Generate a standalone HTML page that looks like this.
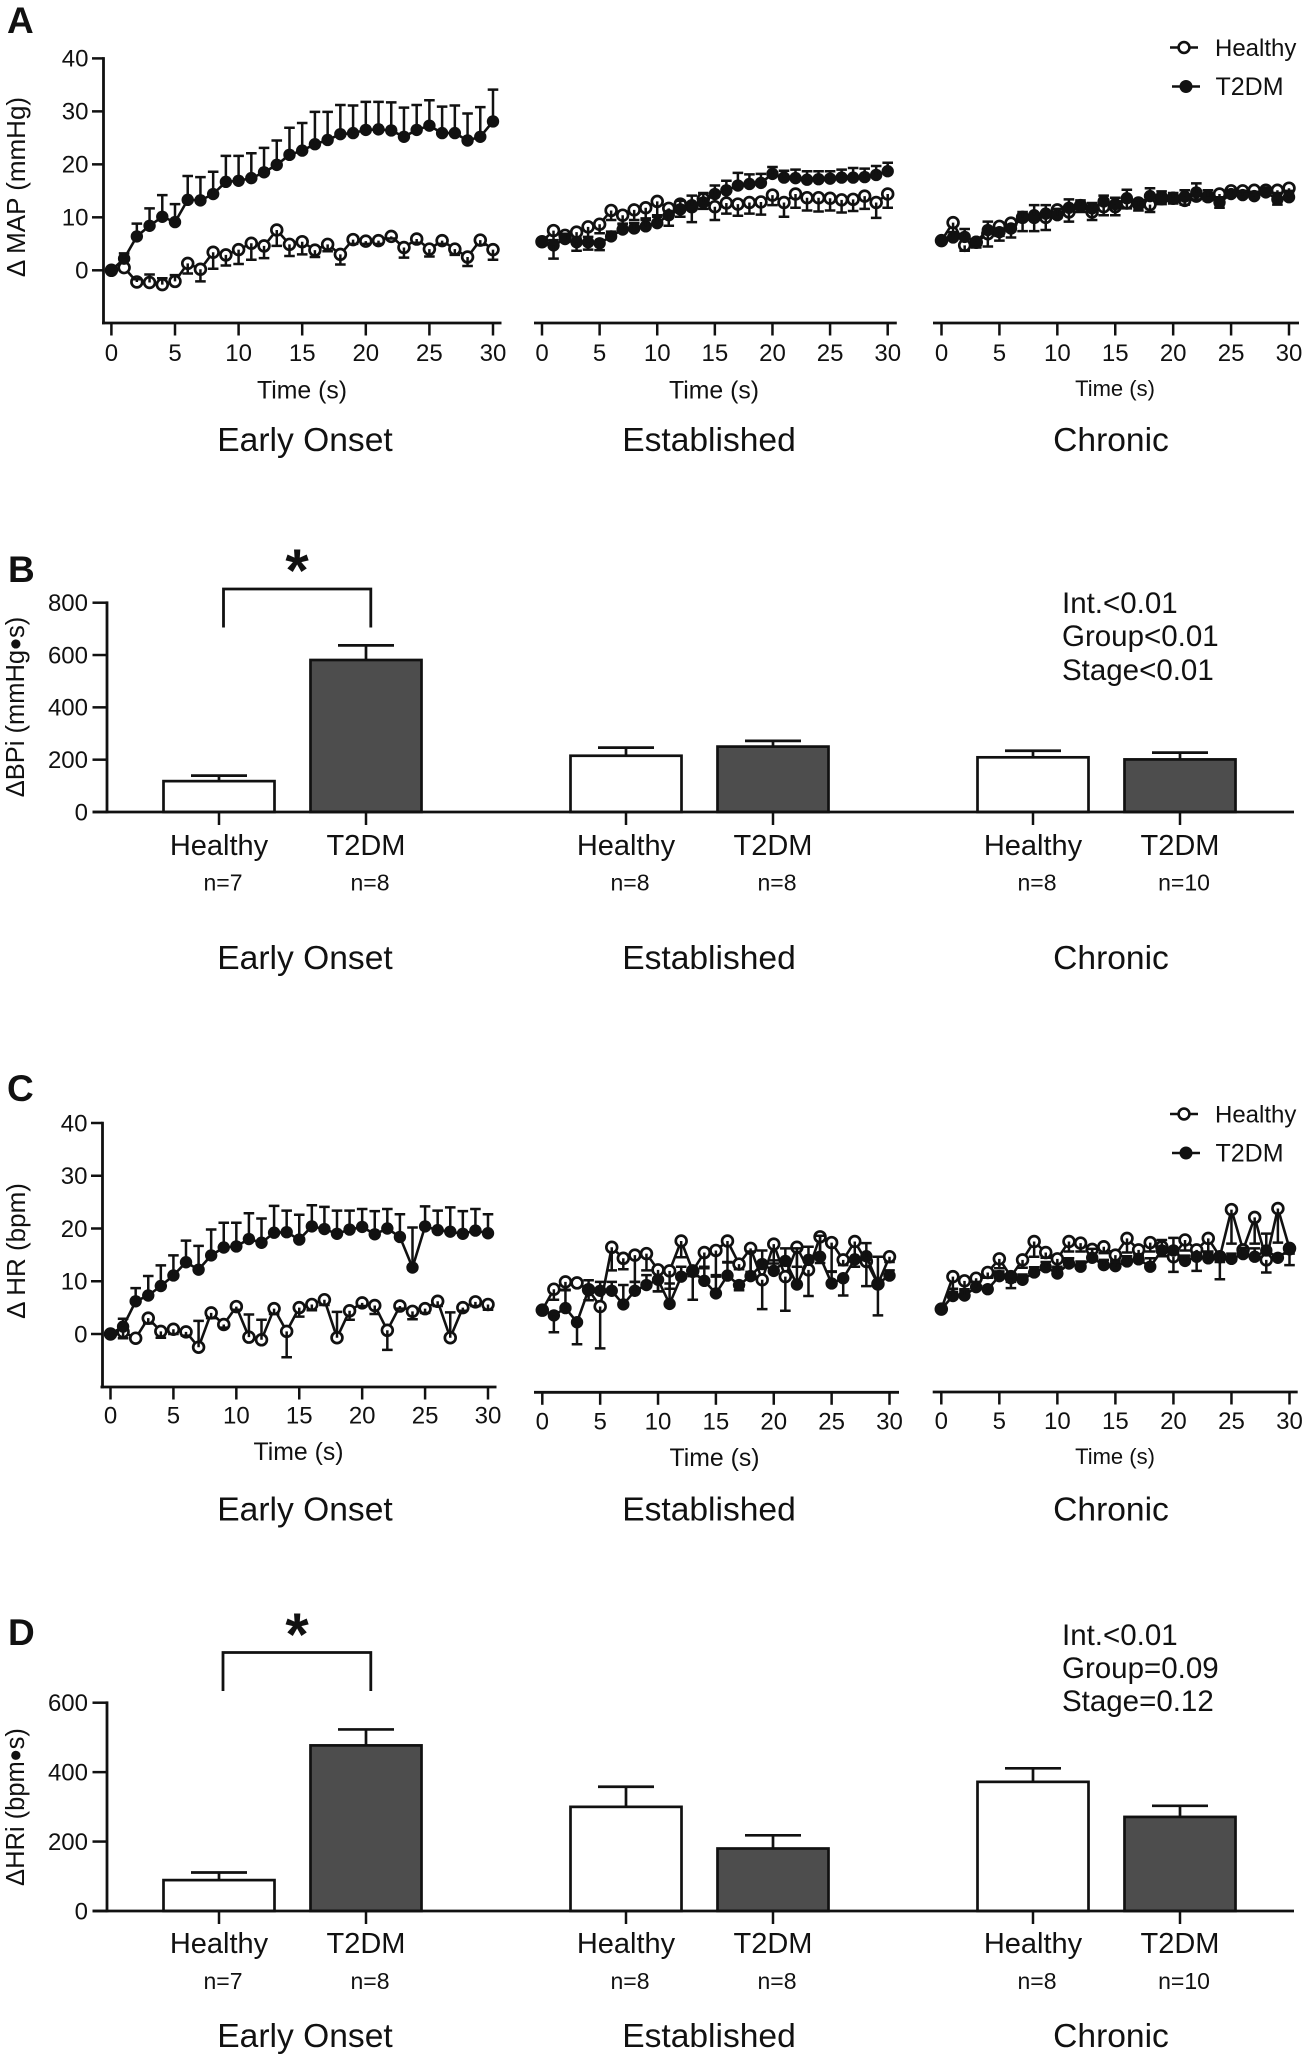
<!DOCTYPE html>
<html lang="en">
<head>
<meta charset="utf-8">
<title>Hemodynamic responses by diabetes stage</title>
<style>
html,body{margin:0;padding:0;background:#fff;}
svg{display:block;}
text{font-family:"Liberation Sans",Arial,sans-serif;fill:#111;}
.letter{font-weight:bold;font-size:37px;}
.stage{font-size:33.6px;text-anchor:middle;}
.stat{font-size:29.5px;}
.ytitle{font-size:26px;text-anchor:middle;}
.star{font-weight:bold;font-size:60px;text-anchor:middle;}
.bracket{fill:none;stroke:#111;stroke-width:2.8;}
.leg{font-size:24px;}
</style>
</head>
<body>
<svg id="figure" xmlns="http://www.w3.org/2000/svg" width="1306" height="2058" viewBox="0 0 1306 2058">
  <rect x="0" y="0" width="1306" height="2058" fill="#fff"/>

  <text class="letter" x="7" y="33">A</text>
  <text class="letter" x="8" y="582">B</text>
  <text class="letter" x="7" y="1101">C</text>
  <text class="letter" x="8" y="1645">D</text>

  <text class="ytitle" transform="translate(25,187) rotate(-90)">Δ MAP (mmHg)</text>
  <text class="ytitle" style="font-size:25.5px" transform="translate(24,707) rotate(-90)">ΔBPi (mmHg<tspan font-size="34" dy="3">•</tspan><tspan dy="-3">s)</tspan></text>
  <text class="ytitle" transform="translate(25,1251) rotate(-90)">Δ HR (bpm)</text>
  <text class="ytitle" style="font-size:25.5px" transform="translate(24,1807) rotate(-90)">ΔHRi (bpm<tspan font-size="34" dy="3">•</tspan><tspan dy="-3">s)</tspan></text>

  <text class="stage" x="305" y="451">Early Onset</text>
  <text class="stage" x="709" y="451">Established</text>
  <text class="stage" x="1111" y="451">Chronic</text>
  <text class="stage" x="305" y="969">Early Onset</text>
  <text class="stage" x="709" y="969">Established</text>
  <text class="stage" x="1111" y="969">Chronic</text>
  <text class="stage" x="305" y="1520.5">Early Onset</text>
  <text class="stage" x="709" y="1520.5">Established</text>
  <text class="stage" x="1111" y="1520.5">Chronic</text>
  <text class="stage" x="305" y="2047">Early Onset</text>
  <text class="stage" x="709" y="2047">Established</text>
  <text class="stage" x="1111" y="2047">Chronic</text>

  <text class="stat" x="1062" y="613">Int.&lt;0.01</text>
  <text class="stat" x="1062" y="646">Group&lt;0.01</text>
  <text class="stat" x="1062" y="680">Stage&lt;0.01</text>
  <text class="stat" x="1062" y="1645">Int.&lt;0.01</text>
  <text class="stat" x="1062" y="1678">Group=0.09</text>
  <text class="stat" x="1062" y="1711">Stage=0.12</text>

  <path class="bracket" d="M223.5 627.5V589H370.8V627.5"/>
  <text class="star" x="297" y="591">*</text>
  <path class="bracket" d="M223 1691V1652.5H370.8V1691"/>
  <text class="star" x="297" y="1655">*</text>

  <g>
    <g>
      <line x1="1170" x2="1198" y1="47.5" y2="47.5" stroke="#111" stroke-width="2.6"/>
      <circle cx="1184" cy="47.5" r="5.4" fill="#fff" stroke="#111" stroke-width="2.6"/>
      <text class="leg" x="1215" y="56">Healthy</text>
    </g>
    <g>
      <line x1="1172" x2="1200" y1="86.5" y2="86.5" stroke="#111" stroke-width="2.6"/>
      <circle cx="1186" cy="86.5" r="6.5" fill="#111"/>
      <text class="leg" style="font-size:25px" x="1215.5" y="95">T2DM</text>
    </g>
  </g>
  <g>
    <g>
      <line x1="1170" x2="1198" y1="1114" y2="1114" stroke="#111" stroke-width="2.6"/>
      <circle cx="1184" cy="1114" r="5.4" fill="#fff" stroke="#111" stroke-width="2.6"/>
      <text class="leg" x="1215" y="1122.5">Healthy</text>
    </g>
    <g>
      <line x1="1172" x2="1200" y1="1153" y2="1153" stroke="#111" stroke-width="2.6"/>
      <circle cx="1186" cy="1153" r="6.5" fill="#111"/>
      <text class="leg" style="font-size:25px" x="1215.5" y="1161.5">T2DM</text>
    </g>
  </g>
</svg>

<script>
// ---- Shared axis tick labels ----
const timeTicks = [0, 5, 10, 15, 20, 25, 30];
const deltaTicks = [0, 10, 20, 30, 40];
const bpiTicks = [0, 200, 400, 600, 800];
const hriTicks = [0, 200, 400, 600];

// ---- Panel A: change in MAP (signed error = distance from mean to the cap) ----
const mapEarlyHealthy = [0,0.5,-2.2,-2.3,-2.7,-2.1,1.3,0.2,3.4,2.9,3.9,5.1,4.6,7.6,4.9,5.4,3.8,4.9,3,5.8,5.5,5.6,6.4,4.3,5.9,4,5.6,4,2.5,5.7,3.9];
const mapEarlyHealthyErr = [0,0,0.5,1.5,1.2,1.2,-1.9,-2.3,-3.1,-2,-2.7,-3.1,-2.3,-3,-2.2,-2.4,-1.3,-1.3,-1.9,-0.8,-0.5,-0.6,-0.4,-1.9,-0.7,-1.4,-0.6,-1.1,-1.7,-0.9,-1.9];
const mapEarlyT2dm = [0,2.2,6.4,8.4,10.1,9.1,13.3,13.2,14.4,16.7,16.9,17.4,18.5,19.9,21.8,22.6,23.8,24.6,25.7,25.9,26.5,26.6,26.4,25.2,26.5,27.3,25.9,25.9,24.5,25.2,28.1];
const mapEarlyT2dmErr = [0,1,2.4,3.3,4.1,3.4,4.5,4.4,4.2,4.9,4.7,4.7,4.6,4.6,5.1,5.2,6.1,5.3,5.5,5.2,5.3,5.2,5.3,5.5,4.7,4.8,5,5.2,5.1,5.6,6];

const mapEstHealthy = [5.4,7.5,6.6,7.2,8.2,8.7,11.3,10.4,11.4,11.8,13,11.7,12.5,12,13.5,12,12.7,12.5,12.8,12.9,14.2,12.8,14.4,13.7,13.7,13.6,13.3,13.4,14,12.8,14.4];
const mapEstHealthyErr = [0,-1.8,-1.2,-1.2,-1.9,-1.7,-1.8,-1.6,-1.9,-2,-2.9,-1.6,-2.4,-2.9,-1.9,-2.5,-2,-2.2,-2.1,-2.4,-1.9,-2.7,-2.6,-2.4,-2.6,-2.3,-2.4,-2.2,-2.4,-2.9,-2.6];
const mapEstT2dm = [5.4,4.7,5.9,5.3,5.3,5.1,6.4,7.7,7.9,8.3,8.9,10.4,11.5,12.3,12.8,14.4,15.1,16,16.3,16.5,18.2,17.5,17.4,17.1,17.2,17.3,17.5,17.5,17.6,18,18.7];
const mapEstT2dmErr = [0,-2.5,1,-1.6,-1.4,-1.3,0.9,1,1,1.2,1.5,-2,1.6,1.8,1.8,1.6,1.8,2.4,1.8,1.7,1.3,1.3,1.6,1.6,1.5,1.4,1.5,1.8,1.6,1.7,1.6];

const mapChrHealthy = [5.6,9,4.7,5.3,6.9,8.3,8.9,10,10,10,11.4,11,12.2,11,12,12,12.7,12.7,12.4,13.5,13.6,13.2,14,13.9,14.4,15,15,15.1,15.1,15.1,15.5];
const mapChrHealthyErr = [0,-2.5,-1,-1,-2.4,-1.8,-1.5,-2.6,-2.6,-2.4,-1.5,-1.8,-1.2,-1.5,-1.6,-1.6,-1,-1.4,-1.4,-1,-1,-0.8,-0.6,-0.7,-0.6,-0.6,-0.6,-0.5,-0.5,-0.5,-0.5];
const mapChrT2dm = [5.6,6.2,6.3,5.4,7.6,7.2,7.9,10,10.4,10.7,10.4,11.8,12.2,11.7,13,12.5,13.6,12.3,14,13.9,13.7,13.9,14.7,13.9,12.8,14.4,14.2,14,14.7,13.4,13.8];
const mapChrT2dmErr = [0,1,1.5,-1,1.6,-1.6,-1.7,1,1.9,1.6,1.2,1.6,1,1,1.1,1.2,1.6,1,1.5,1,0.9,1.2,1.7,1.2,-1,0.8,0.8,0.8,0.6,-1,0.8];

// ---- Panel C: change in HR ----
const hrEarlyHealthy = [0,0.4,-0.8,3,0.5,0.9,0.4,-2.5,4,1.8,5.2,-0.6,-1.1,4.8,0.5,5,5.6,6.5,-0.7,4.4,5.9,5.4,0.7,5.3,4.3,4.8,6.2,-0.7,5,6.1,5.6];
const hrEarlyHealthyErr = [0,-1.2,0,-1,-1.2,-0.9,-0.7,5,-1,-0.6,-0.6,4.3,3.8,-1,-4.9,-1.7,-1.1,-1,4.9,-1.7,-0.6,-1.6,-3.7,-0.5,-1.5,-0.8,-0.9,4.8,-0.6,-0.8,-1];
const hrEarlyT2dm = [0,1.4,6.2,7.3,9.1,11.1,13.6,12.2,14.9,16.4,16.6,18,17.3,19.2,19.3,17.9,20.4,19.9,19,19.8,20.3,18.9,20,18.4,12.6,20.4,19.7,19.4,19,19.6,19.1];
const hrEarlyT2dmErr = [0,1.5,2.5,3.7,3.9,3.8,4.1,4.5,4.9,4.7,4.5,4.9,4.6,5.1,4.1,4.7,4,4.2,4.4,3.6,3.4,4.4,3.7,4.3,7.6,3.8,3.7,4.6,4.3,4.1,3.6];

const hrEstHealthy = [5.5,9.5,10.9,10.7,9.4,6.2,17.5,15.4,16,16.3,13.2,13,18.7,13,16.5,16.9,18.7,14.3,17.3,11.3,18.1,11.9,17.5,13.2,19.5,18.4,15.1,18.6,14.8,10.5,15.7];
const hrEstHealthyErr = [0,-2,-1.6,0,-2,-8,-4.4,-2.1,-5.1,-3.2,-4.1,-3.4,-3.1,-1,-3,-5,-4,-1,-4.5,-5.6,-3.7,-6.5,-3.7,-5,-5,-5.5,-1,-4.8,-4.7,-6,-1];
const hrEstT2dm = [5.5,4.5,5.9,3.2,9.4,9.2,9.2,6.6,9.2,10.3,11.3,6.7,11.9,12.8,11.1,8.7,12.1,10.3,12,14.3,13,14.9,10.4,15.1,15.7,10.6,11.6,15.2,15.8,10.6,12.1];
const hrEstT2dmErr = [0,-3.2,3.5,-4.2,1.8,1.7,1.7,3.7,1.7,1.9,-2.2,3.9,1.9,-5.3,2.7,3.5,2.5,-1,4.7,2.6,2,2.4,6.9,2.5,4,2.2,-3.3,-1.4,2.5,5.1,1];

const hrChrHealthy = [5.7,11.9,11.1,11.6,12.7,15.3,11.9,15.1,18.6,16.5,15.3,18.6,18.3,17.1,17.6,16,19.2,17,18.4,17.6,15.7,18.9,17,19.2,15.7,24.7,17,23.2,15.1,24.9,17.3];
const hrChrHealthyErr = [0,-2.3,-1.9,-1.6,-1,-1.8,-1,-1.5,-2.9,-1,-1.5,-1.9,-1.6,-1.2,-1.2,-1,-2.7,-1,-1.7,-1.8,-2.9,-2,-1.5,-2.5,-1,-6.5,-1,-5,-2.4,-6.5,-1];
const hrChrT2dm = [5.7,8.2,8.3,9.9,9.5,12,11.6,11.3,12.7,13.7,12.5,14.4,13.8,15.5,14.1,13.9,14.8,15.2,13.8,16.9,16.9,14.9,15.7,15.4,15.7,15.3,16.2,15.7,16.9,15.5,17.1];
const hrChrT2dmErr = [0,0.8,1.2,1,0.6,0.9,-1.9,1,1,1,1,1,1,1.7,1,0.8,1,1,1.6,2,2.4,1,-2.7,0.9,-4.3,1,1.2,1.6,3.2,0.6,-3];

// ---- Panels B and D: bars, ordered Healthy/T2DM for each stage ----
const barCategories = ['Healthy','T2DM','Healthy','T2DM','Healthy','T2DM'];
const barNs = ['n=7','n=8','n=8','n=8','n=8','n=10'];
const bpiMeans = [118,581,215,250,209,201];
const bpiErrs = [21,56,31,22,25,26];
const hriMeans = [89,477,300,180,372,271];
const hriErrs = [22,46,58,38,39,32];

const NS = 'http://www.w3.org/2000/svg';
const fig = document.getElementById('figure');
const INK = '#111';

function mk(tag, attrs, parent, txt) {
  const el = document.createElementNS(NS, tag);
  for (const k in attrs) el.setAttribute(k, attrs[k]);
  if (txt !== undefined) el.textContent = txt;
  parent.appendChild(el);
  return el;
}
function linearScale(d0, d1, r0, r1) {
  return v => r0 + (v - d0) * (r1 - r0) / (d1 - d0);
}

function drawSeries(g, name, vals, errs, x, y, filled) {
  const pts = vals.map((v, i) => x(i).toFixed(2) + ',' + y(v).toFixed(2)).join(' ');
  const ln = mk('polyline', {points: pts, fill: 'none', stroke: INK, 'stroke-width': 2.6, 'stroke-linejoin': 'round'}, g);
  
  
  vals.forEach((v, i) => {
    const c = mk('circle', {cx: x(i), cy: y(v), r: filled ? 6.2 : 5.4,
      fill: filled ? INK : '#fff', stroke: filled ? 'none' : INK, 'stroke-width': filled ? 0 : 2.7}, g);
    
    
  });
  vals.forEach((v, i) => {
    if (!errs[i]) return;
    const y2 = y(v + errs[i]);
    const e = mk('path', {d: 'M' + x(i) + ' ' + y(v) + 'V' + y2 + 'M' + (x(i) - 5.3) + ' ' + y2 + 'H' + (x(i) + 5.3),
      fill: 'none', stroke: INK, 'stroke-width': 2.5}, g);
    
    
  });
}

function drawLinePanel(o) {
  const g = mk('g', {}, fig);
  
  
  const x = linearScale(0, 30, o.x0, o.x30);
  const y = linearScale(0, 40, o.y0, o.y40);
  const xa = mk('line', {x1: o.axL, x2: o.axR, y1: o.axY, y2: o.axY, stroke: INK, 'stroke-width': 2.8}, g);
  
  
  timeTicks.forEach(t => {
    const tk = mk('line', {x1: x(t), x2: x(t), y1: o.axY, y2: o.axY + 12.5, stroke: INK, 'stroke-width': 2.5}, g);
    
    
    const lb = mk('text', {x: x(t), y: o.tickY, 'text-anchor': 'middle', 'font-size': 24}, g, String(t));
    
    
  });
  const tt = mk('text', {x: o.titleX, y: o.titleY, 'text-anchor': 'middle', 'font-size': o.titleSize}, g, 'Time (s)');
  
  
  if (o.yAxisX) {
    const ya = mk('line', {x1: o.yAxisX, x2: o.yAxisX, y1: y(40) - 1.3, y2: o.axY + 1.3, stroke: INK, 'stroke-width': 2.8}, g);
    
    
    deltaTicks.forEach(t => {
      const tk = mk('line', {x1: o.yAxisX - 11.5, x2: o.yAxisX, y1: y(t), y2: y(t), stroke: INK, 'stroke-width': 2.5}, g);
      
      
      const lb = mk('text', {x: o.yAxisX - 15, y: y(t) + 8.3, 'text-anchor': 'end', 'font-size': 24}, g, String(t));
      
      
    });
  }
  drawSeries(g, o.name + '-healthy', o.healthy, o.healthyErr, x, y, false);
  drawSeries(g, o.name + '-t2dm', o.t2dm, o.t2dmErr, x, y, true);
}

function drawBarPanel(o) {
  const g = mk('g', {}, fig);
  
  
  const y = linearScale(0, o.ticks[o.ticks.length - 1], o.y0, o.yTop);
  const cx = i => 219 + 407 * Math.floor(i / 2) + 147 * (i % 2);
  o.means.forEach((m, i) => {
    const isT = i % 2 === 1;
    const top = y(m), cap = y(m + o.errs[i]);
    const eb = mk('path', {d: 'M' + cx(i) + ' ' + top + 'V' + cap + 'M' + (cx(i) - 28) + ' ' + cap + 'H' + (cx(i) + 28),
      fill: 'none', stroke: INK, 'stroke-width': 2.7}, g);
    
    
    const r = mk('rect', {x: cx(i) - 55.5, y: top, width: 111, height: o.y0 - top,
      fill: isT ? '#4d4d4d' : '#fff', stroke: INK, 'stroke-width': 2.7}, g);
    
    
    const tk = mk('line', {x1: cx(i), x2: cx(i), y1: o.y0, y2: o.y0 + 13, stroke: INK, 'stroke-width': 2.5}, g);
    
    
    const lb = mk('text', {x: cx(i), y: o.labelY, 'text-anchor': 'middle', 'font-size': 29}, g, barCategories[i]);
    
    
    const n = mk('text', {x: cx(i) + 4, y: o.nY, 'text-anchor': 'middle', 'font-size': 23}, g, barNs[i]);
    
    
  });
  const xa = mk('line', {x1: 92.5, x2: 1294, y1: o.y0, y2: o.y0, stroke: INK, 'stroke-width': 2.8}, g);
  
  
  const ya = mk('line', {x1: 107, x2: 107, y1: o.yTop - 1.3, y2: o.y0 + 1.3, stroke: INK, 'stroke-width': 2.8}, g);
  
  
  o.ticks.forEach(t => {
    const tk = mk('line', {x1: 92.5, x2: 107, y1: y(t), y2: y(t), stroke: INK, 'stroke-width': 2.5}, g);
    
    
    const lb = mk('text', {x: 88, y: y(t) + 8.3, 'text-anchor': 'end', 'font-size': 24}, g, String(t));
    
    
  });
}

drawLinePanel({name: 'map-early-onset', x0: 111.4, x30: 493, y0: 270.3, y40: 58.4, axL: 102, axR: 501.5, axY: 323, tickY: 361, titleX: 302, titleY: 398.5, titleSize: 24.8, yAxisX: 103.5,
  healthy: mapEarlyHealthy, healthyErr: mapEarlyHealthyErr, t2dm: mapEarlyT2dm, t2dmErr: mapEarlyT2dmErr});
drawLinePanel({name: 'map-established', x0: 542, x30: 887.7, y0: 270.3, y40: 58.4, axL: 534, axR: 896.8, axY: 323, tickY: 361, titleX: 714, titleY: 398.5, titleSize: 24.8,
  healthy: mapEstHealthy, healthyErr: mapEstHealthyErr, t2dm: mapEstT2dm, t2dmErr: mapEstT2dmErr});
drawLinePanel({name: 'map-chronic', x0: 941.5, x30: 1289, y0: 270.3, y40: 58.4, axL: 933, axR: 1299, axY: 323, tickY: 361, titleX: 1115, titleY: 396, titleSize: 22,
  healthy: mapChrHealthy, healthyErr: mapChrHealthyErr, t2dm: mapChrT2dm, t2dmErr: mapChrT2dmErr});

drawLinePanel({name: 'hr-early-onset', x0: 110.5, x30: 488, y0: 1334, y40: 1123, axL: 100.5, axR: 496.5, axY: 1387, tickY: 1423.5, titleX: 298.5, titleY: 1460, titleSize: 24.8, yAxisX: 102.5,
  healthy: hrEarlyHealthy, healthyErr: hrEarlyHealthyErr, t2dm: hrEarlyT2dm, t2dmErr: hrEarlyT2dmErr});
drawLinePanel({name: 'hr-established', x0: 542.3, x30: 889.5, y0: 1339, y40: 1129.4, axL: 534, axR: 899, axY: 1392.3, tickY: 1429.5, titleX: 714.5, titleY: 1466, titleSize: 24.8,
  healthy: hrEstHealthy, healthyErr: hrEstHealthyErr, t2dm: hrEstT2dm, t2dmErr: hrEstT2dmErr});
drawLinePanel({name: 'hr-chronic', x0: 941.3, x30: 1289.5, y0: 1339, y40: 1129.4, axL: 932.7, axR: 1297.7, axY: 1392, tickY: 1429, titleX: 1115, titleY: 1464, titleSize: 22,
  healthy: hrChrHealthy, healthyErr: hrChrHealthyErr, t2dm: hrChrT2dm, t2dmErr: hrChrT2dmErr});

drawBarPanel({name: 'bpi-bars', y0: 812, yTop: 602.7, ticks: bpiTicks, means: bpiMeans, errs: bpiErrs, labelY: 855, nY: 890.5});
drawBarPanel({name: 'hri-bars', y0: 1911, yTop: 1702.7, ticks: hriTicks, means: hriMeans, errs: hriErrs, labelY: 1953, nY: 1989});
</script>
</body>
</html>
